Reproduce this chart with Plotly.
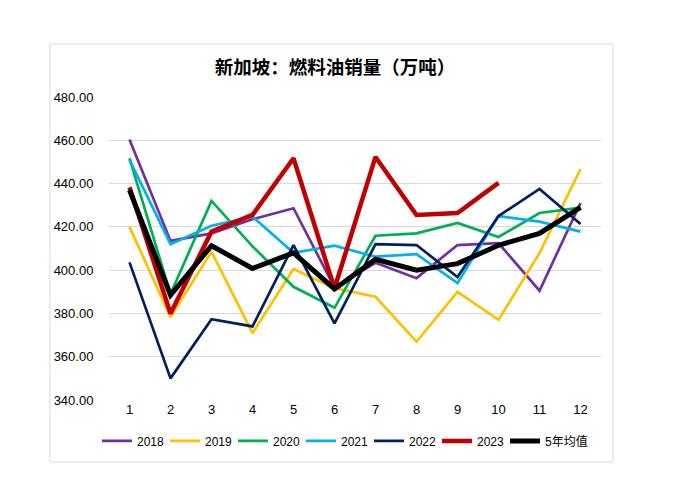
import plotly.graph_objects as go

months = [1, 2, 3, 4, 5, 6, 7, 8, 9, 10, 11, 12]

y2018 = [460.4, 413.5, 417.0, 423.5, 428.6, 392.0, 403.4, 396.3, 411.6, 412.5, 390.5, 431.0]
y2019 = [420.0, 378.3, 408.5, 370.9, 400.5, 391.7, 387.7, 366.9, 390.0, 377.0, 407.9, 446.7]
y2020 = [451.7, 389.0, 432.0, 411.0, 392.3, 382.6, 415.9, 417.0, 421.8, 415.3, 426.4, 428.9]
y2021 = [451.0, 412.0, 420.5, 424.7, 408.0, 411.3, 406.2, 407.4, 394.0, 425.0, 422.4, 417.8]
y2022 = [403.6, 350.0, 377.3, 374.0, 411.6, 375.4, 412.0, 411.6, 396.8, 425.0, 437.5, 421.3]
y2023 = [438.3, 380.0, 417.8, 425.5, 451.7, 391.5, 452.3, 425.5, 426.4, 440.3]
avg5 = [437.0, 388.5, 411.3, 400.8, 408.0, 391.3, 405.0, 400.0, 403.0, 411.5, 417.0, 429.0]

series = [
    ("2018", y2018, "#7030A0", 2.7),
    ("2019", y2019, "#FFC000", 2.7),
    ("2020", y2020, "#00B050", 2.7),
    ("2021", y2021, "#00B0F0", 2.7),
    ("2022", y2022, "#002060", 2.7),
    ("2023", y2023, "#C00000", 4.5),
    ("5年均值", avg5, "#000000", 5),
]

fig = go.Figure()
for name, vals, color, w in series:
    fig.add_trace(go.Scatter(x=months[:len(vals)], y=vals, name=name, mode="lines",
                             line=dict(color=color, width=w)))

# empty legend slot so the last label is not clipped
fig.add_trace(go.Scatter(x=[None], y=[None], name=" ", mode="lines",
                         line=dict(color="rgba(0,0,0,0)", width=0), hoverinfo="skip"))

# outer chart border
fig.add_shape(type="rect", xref="paper", yref="paper",
              x0=-0.12, x1=1.0244, y0=-0.2046, y1=1.175,
              line=dict(color="#d9d9d9", width=1), fillcolor="rgba(0,0,0,0)", layer="below")

font = "Liberation Sans, Arial, Noto Sans CJK SC, sans-serif"
fig.update_layout(
    width=682, height=483,
    margin=dict(l=101, r=89, t=89, b=91, autoexpand=False),
    paper_bgcolor="white", plot_bgcolor="white",
    font=dict(family=font, size=13, color="#000000"),
    title=dict(text="<b>新加坡：燃料油销量（万吨）</b>", x=327 / 682, xanchor="center",
               y=1 - 60 / 483, yanchor="middle",
               font=dict(family="Noto Sans CJK SC, sans-serif", size=18.5, color="#000000")),
    showlegend=True,
    legend=dict(orientation="h", x=-0.0244, xanchor="left", y=-0.135, yanchor="middle",
                font=dict(size=12), itemwidth=30, entrywidth=23, entrywidthmode="pixels",
                bgcolor="rgba(0,0,0,0)"),
    xaxis=dict(range=[0.5, 12.5], tickvals=months, ticktext=[str(m) for m in months],
               showgrid=False, zeroline=False, showline=False, ticks="", ticklen=0),
    yaxis=dict(range=[340, 480], dtick=20, tickformat=".2f", showgrid=True,
               gridcolor="#d9d9d9", gridwidth=1, zeroline=False, showline=False,
               ticks="outside", ticklen=12, tickcolor="white"),
)

fig.write_html("out.html")
